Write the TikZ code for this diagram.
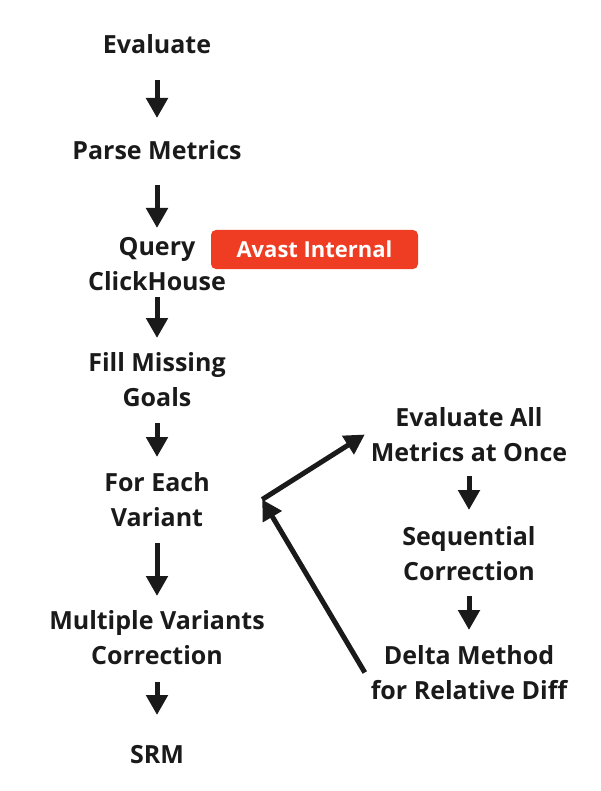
\documentclass[tikz,border=0pt]{standalone}
\usepackage{fontspec}
\setmainfont{Open Sans}
\usetikzlibrary{arrows.meta}
\definecolor{ink}{HTML}{1A1A1A}
\definecolor{badgered}{HTML}{EE3D23}
\begin{document}
\begin{tikzpicture}[x=1pt,y=-1pt,
  lbl/.style={font=\bfseries\fontsize{25}{35}\selectfont, text=ink, align=center, inner sep=0pt},
  arr/.style={draw=ink, line width=5pt, -{Triangle[width=21pt,length=20pt]}},
  badge/.style={fill=badgered, rounded corners=5pt, minimum width=207pt, minimum height=39pt,
    text=white, font=\bfseries\fontsize{22}{26}\selectfont, inner sep=0pt}]
\useasboundingbox (0,0) rectangle (600,791);
% left column
\node[lbl] (ev) at (157,44) {Evaluate};
\node[lbl] (pm) at (157,150) {Parse Metrics};
\node[lbl] (qc) at (157,264.5) {Query\\ClickHouse};
\node[lbl] (fm) at (157,379.5) {Fill Missing\\Goals};
\node[lbl, minimum width=210pt] (fe) at (157,499.5) {For Each\\Variant};
\node[lbl] (mv) at (157,637.5) {Multiple Variants\\Correction};
\node[lbl] (srm) at (157,755) {SRM};
% badge
\node[badge] (ai) at (314.5,249.5) {Avast Internal};
% right column
\node[lbl, minimum width=208pt] (ea) at (469,434.5) {Evaluate All\\Metrics at Once};
\node[lbl] (sc) at (469,553.5) {Sequential\\Correction};
\node[lbl, minimum width=208pt] (dm) at (469,672.5) {Delta Method\\for Relative Diff};
% vertical arrows
\draw[arr, shorten <=36pt, shorten >=32pt] (ev.center) -- (pm.center);
\draw[arr, shorten <=35pt, shorten >=36.5pt] (pm.center) -- (qc.center);
\draw[arr, shorten <=32.5pt, shorten >=41.5pt] (qc.center) -- (fm.center);
\draw[arr, shorten <=43.5pt, shorten >=42.5pt] (fm.center) -- (fe.center);
\draw[arr, shorten <=43.5pt, shorten >=41.5pt] (fe.center) -- (mv.center);
\draw[arr, shorten <=44.5pt, shorten >=40pt] (mv.center) -- (srm.center);
\draw[arr, shorten <=41.5pt, shorten >=43.5pt] (ea.center) -- (sc.center);
\draw[arr, shorten <=42.5pt, shorten >=42.5pt] (sc.center) -- (dm.center);
% diagonal arrows
\draw[arr] (fe.east) -- (ea.west);
\draw[arr] (dm.west) -- (fe.east);
\end{tikzpicture}
\end{document}
